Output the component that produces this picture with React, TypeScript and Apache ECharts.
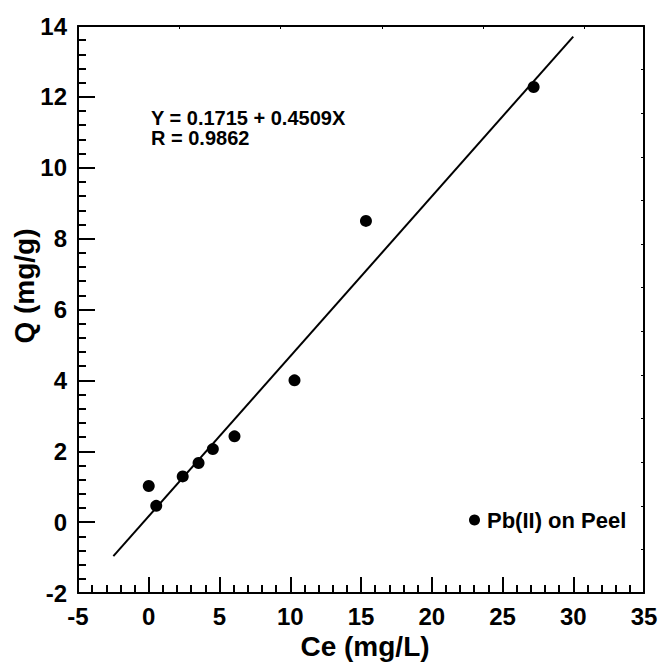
import React, { useEffect, useRef } from "react";
import * as echarts from "echarts";

const ceValues = [0.0, 0.53, 2.4, 3.52, 4.53, 6.06, 10.3, 15.35, 27.2];
const qValues = [1.02, 0.46, 1.29, 1.67, 2.06, 2.42, 4.0, 8.5, 12.28];
const fitX = [-2.5, 30];
const fitY = [-0.96, 13.7];
const equationLines = ["Y = 0.1715 + 0.4509X", "R = 0.9862"];
const seriesName = "Pb(II) on Peel";
const xTitle = "Ce (mg/L)";
const yTitle = "Q (mg/g)";

const FONT = "'Liberation Sans', Arial, Helvetica, sans-serif";

export default function App() {
  const ref = useRef<HTMLDivElement>(null);
  useEffect(() => {
    document.body.style.margin = "0";
    const chart = echarts.init(ref.current!, null, { renderer: "svg" });
    const axisLine = { show: true, onZero: false, lineStyle: { color: "#000", width: 2 } };
    chart.setOption({
      animation: false,
      backgroundColor: "#fff",
      grid: { left: 78, top: 26, width: 566, height: 567, containLabel: false },
      legend: {
        data: [seriesName],
        left: 464,
        top: 504,
        icon: "circle",
        itemWidth: 11,
        itemHeight: 11,
        itemStyle: { color: "#000", opacity: 1 },
        textStyle: { fontFamily: FONT, fontWeight: "bold", fontSize: 22, color: "#000", padding: [6, 0, 0, 2] },
      },
      xAxis: [
        {
          type: "value",
          min: -5,
          max: 35,
          interval: 5,
          position: "bottom",
          axisLine,
          axisTick: { show: true, inside: true, length: 16, lineStyle: { color: "#000", width: 2 } },
          minorTick: { show: true, splitNumber: 5, length: 8, lineStyle: { color: "#000", width: 2 } },
          axisLabel: { fontFamily: FONT, fontWeight: "bold", fontSize: 24, color: "#000", margin: 11 },
          splitLine: { show: false },
        },
        {
          type: "value",
          min: 0,
          max: 5.587,
          interval: 1,
          position: "top",
          axisLine,
          axisTick: { show: true, inside: true, length: 3, lineStyle: { color: "#000", width: 1 } },
          axisLabel: { show: false },
          splitLine: { show: false },
        },
      ],
      yAxis: [
        {
          type: "value",
          min: -2,
          max: 14,
          interval: 2,
          position: "left",
          axisLine,
          axisTick: { show: true, inside: true, length: 17, lineStyle: { color: "#000", width: 2 } },
          minorTick: { show: true, splitNumber: 5, length: 8, lineStyle: { color: "#000", width: 2 } },
          axisLabel: { fontFamily: FONT, fontWeight: "bold", fontSize: 24, color: "#000", margin: 11 },
          splitLine: { show: false },
        },
        {
          type: "value",
          min: 0,
          max: 13,
          interval: 1,
          position: "right",
          axisLine,
          axisTick: { show: true, inside: true, length: 3, lineStyle: { color: "#000", width: 1 } },
          axisLabel: { show: false },
          splitLine: { show: false },
        },
      ],
      series: [
        {
          name: "fit",
          type: "line",
          xAxisIndex: 0,
          yAxisIndex: 0,
          data: fitX.map((x, i) => [x, fitY[i]]),
          showSymbol: false,
          symbol: "none",
          lineStyle: { color: "#000", width: 2 },
          silent: true,
        },
        {
          name: seriesName,
          type: "scatter",
          xAxisIndex: 0,
          yAxisIndex: 0,
          data: ceValues.map((x, i) => [x, qValues[i]]),
          symbol: "circle",
          symbolSize: 12,
          itemStyle: { color: "#000", opacity: 1 },
        },
      ],
      graphic: [
        {
          type: "text",
          left: 151,
          top: 108,
          style: {
            text: equationLines[0],
            fontFamily: FONT,
            fontWeight: "bold",
            fontSize: 20,
            lineHeight: 20,
            fill: "#000",
          },
        },
        {
          type: "text",
          left: 151,
          top: 128,
          style: {
            text: equationLines[1],
            fontFamily: FONT,
            fontWeight: "bold",
            fontSize: 20,
            lineHeight: 20,
            fill: "#000",
          },
        },
        {
          type: "text",
          x: 365,
          y: 646,
          style: {
            text: xTitle,
            fontFamily: FONT,
            fontWeight: "bold",
            fontSize: 28,
            fill: "#000",
            align: "center",
            verticalAlign: "middle",
          },
        },
        {
          type: "text",
          x: 24,
          y: 286,
          rotation: Math.PI / 2,
          style: {
            text: yTitle,
            fontFamily: FONT,
            fontWeight: "bold",
            fontSize: 28,
            fill: "#000",
            align: "center",
            verticalAlign: "middle",
          },
        },
      ],
    });
    return () => chart.dispose();
  }, []);
  return <div ref={ref} style={{ width: 663, height: 664 }} />;
}
